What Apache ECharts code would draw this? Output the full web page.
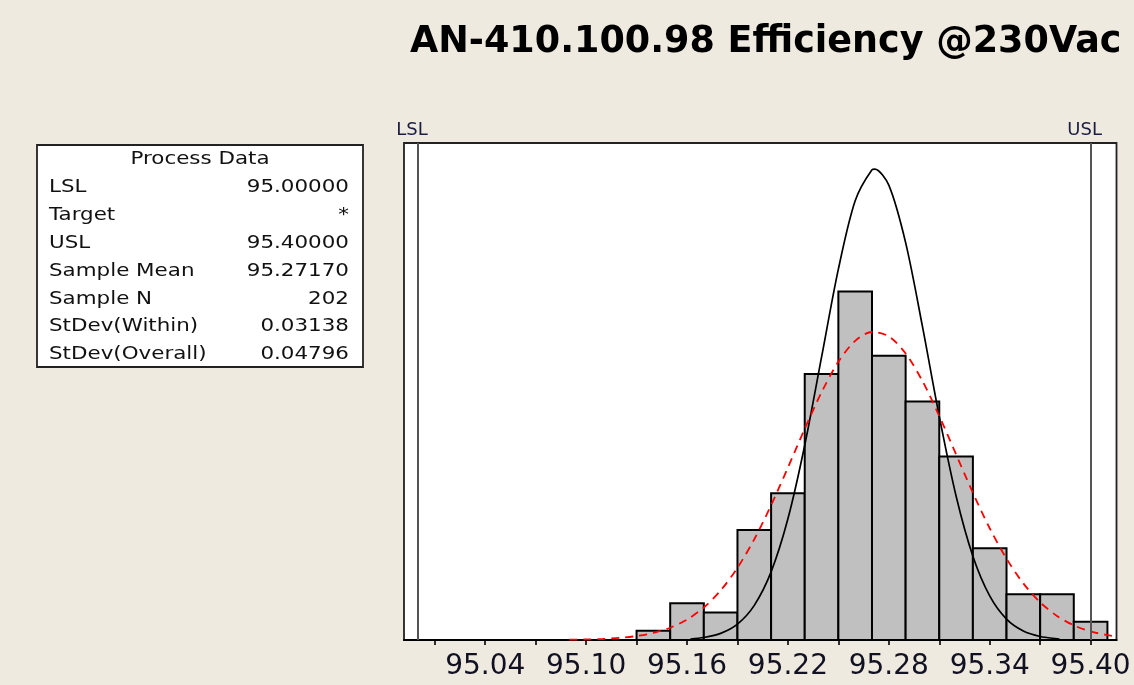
<!DOCTYPE html>
<html>
<head>
<meta charset="utf-8">
<script src="https://cdn.jsdelivr.net/npm/echarts@6/dist/echarts.min.js"></script>
<style>
html,body{margin:0;padding:0;background:#EEEAE0;}
#c{width:1134px;height:685px;}
</style>
</head>
<body>
<div id="c"></div>
<script>
// ---- data ----
const titleText = 'AN-410.100.98 Efficiency @230Vac';

const binCenters = [95.14, 95.16, 95.18, 95.20, 95.22, 95.24, 95.26, 95.28, 95.30, 95.32, 95.34, 95.36, 95.38, 95.40];
const binCounts  = [1, 4, 3, 12, 16, 29, 38, 31, 26, 20, 10, 5, 5, 2];
const binWidth = 0.02;

// fitted normal curve (within)
const withinX = [95.162, 95.17, 95.18, 95.19, 95.20, 95.21, 95.22, 95.23, 95.24, 95.25, 95.26, 95.27, 95.2717, 95.28, 95.29, 95.30, 95.31, 95.32, 95.33, 95.34, 95.35, 95.36, 95.37, 95.38, 95.3815];
const withinY = [0.11, 0.27, 0.72, 1.73, 3.78, 7.43, 13.22, 21.24, 30.84, 40.44, 47.91, 51.29, 51.36, 49.60, 43.33, 34.20, 24.39, 15.71, 9.14, 4.81, 2.28, 0.98, 0.38, 0.13, 0.11];

// fitted normal curve (overall), red dashed
const overallX = [95.09, 95.10, 95.11, 95.12, 95.13, 95.14, 95.15, 95.16, 95.17, 95.18, 95.19, 95.20, 95.21, 95.22, 95.23, 95.24, 95.25, 95.26, 95.27, 95.28, 95.29, 95.30, 95.31, 95.32, 95.33, 95.34, 95.35, 95.36, 95.37, 95.38, 95.39, 95.40, 95.41, 95.415];
const overallY = [0.03, 0.06, 0.11, 0.23, 0.43, 0.77, 1.34, 2.23, 3.55, 5.40, 7.88, 10.99, 14.69, 18.80, 23.03, 27.01, 30.34, 32.62, 33.59, 33.11, 31.25, 28.24, 24.43, 20.24, 16.05, 12.19, 8.87, 6.17, 4.11, 2.63, 1.60, 0.94, 0.53, 0.39];

const specNames  = ['LSL', 'USL'];
const specValues = [95.00, 95.40];

const tickValues  = [95.01, 95.04, 95.07, 95.10, 95.13, 95.16, 95.19, 95.22, 95.25, 95.28, 95.31, 95.34, 95.37, 95.40];
const labelValues = [95.04, 95.10, 95.16, 95.22, 95.28, 95.34, 95.40];

const pdTitle  = 'Process Data';
const pdLabels = ['LSL', 'Target', 'USL', 'Sample Mean', 'Sample N', 'StDev(Within)', 'StDev(Overall)'];
const pdValues = ['95.00000', '*', '95.40000', '95.27170', '202', '0.03138', '0.04796'];

// ---- chart ----
const chart = echarts.init(document.getElementById('c'), null, {renderer: 'canvas'});

const boxFont = '17px "DejaVu Sans"';
const sx = 1.26;
const graphics = [
  {type: 'rect', z: 10, shape: {x: 37, y: 145, width: 326, height: 222},
   style: {fill: '#ffffff', stroke: '#222222', lineWidth: 1.8}},
  {type: 'text', z: 11, x: 200, y: 160, scaleX: sx,
   style: {text: pdTitle, font: boxFont, fill: '#111111', align: 'center', verticalAlign: 'middle'}}
];
pdLabels.forEach(function (lab, i) {
  const y = 188 + i * 27.8;
  graphics.push({type: 'text', z: 11, x: 49, y: y, scaleX: sx,
    style: {text: lab, font: boxFont, fill: '#111111', align: 'left', verticalAlign: 'middle'}});
  graphics.push({type: 'text', z: 11, x: 349, y: y, scaleX: sx,
    style: {text: pdValues[i], font: boxFont, fill: '#111111', align: 'right', verticalAlign: 'middle'}});
});

const option = {
  animation: false,
  backgroundColor: '#EEEAE0',
  title: {
    text: titleText,
    left: 405,
    top: 19,
    textStyle: {fontFamily: 'DejaVu Sans', fontWeight: 'bold', fontSize: 36.5, color: '#000000'}
  },
  graphic: graphics,
  grid: {
    left: 404, top: 143, right: 17.5, bottom: 45,
    show: true, backgroundColor: '#ffffff', borderColor: '#222222', borderWidth: 1.8
  },
  xAxis: {
    type: 'value',
    min: 94.9917,
    max: 95.4154,
    axisLine: {show: true, lineStyle: {color: '#000000', width: 2}},
    axisTick: {show: true, inside: false, length: 5, customValues: tickValues,
               lineStyle: {color: '#000000', width: 1.6}},
    axisLabel: {show: true, customValues: labelValues, margin: 13,
                fontFamily: 'DejaVu Sans', fontSize: 28, color: '#111122',
                formatter: function (v) { return Number(v).toFixed(2); }},
    splitLine: {show: false}
  },
  yAxis: {
    type: 'value', min: 0, max: 54.2, show: false, splitLine: {show: false}
  },
  series: [
    {
      type: 'custom',
      name: 'Histogram',
      data: binCenters.map(function (c, i) { return [c, binCounts[i]]; }),
      encode: {x: 0, y: 1},
      renderItem: function (params, api) {
        const c = api.value(0), n = api.value(1);
        const p1 = api.coord([c - binWidth / 2, n]);
        const p2 = api.coord([c + binWidth / 2, 0]);
        return {
          type: 'rect',
          shape: {x: p1[0], y: p1[1], width: p2[0] - p1[0], height: p2[1] - p1[1]},
          style: {fill: '#C0C0C0', stroke: '#000000', lineWidth: 2}
        };
      },
      markLine: {
        silent: true,
        symbol: ['none', 'none'],
        lineStyle: {color: '#555555', width: 2, type: 'solid'},
        label: {show: true, position: 'end', formatter: '{b}', distance: 4,
                fontFamily: 'DejaVu Sans', fontSize: 18, color: '#1c1c40',
                padding: [0, 12, 0, 0]},
        data: specNames.map(function (n, i) { return {name: n, xAxis: specValues[i]}; })
      },
      z: 2
    },
    {
      type: 'line',
      name: 'Within',
      data: withinX.map(function (x, i) { return [x, withinY[i]]; }),
      smooth: 0.3,
      showSymbol: false,
      lineStyle: {color: '#000000', width: 1.7},
      z: 3
    },
    {
      type: 'line',
      name: 'Overall',
      data: overallX.map(function (x, i) { return [x, overallY[i]]; }),
      smooth: 0.3,
      showSymbol: false,
      clip: true,
      lineStyle: {color: '#FF0000', width: 1.8, type: [8, 6]},
      z: 4
    }
  ]
};
chart.setOption(option);
</script>
</body>
</html>
